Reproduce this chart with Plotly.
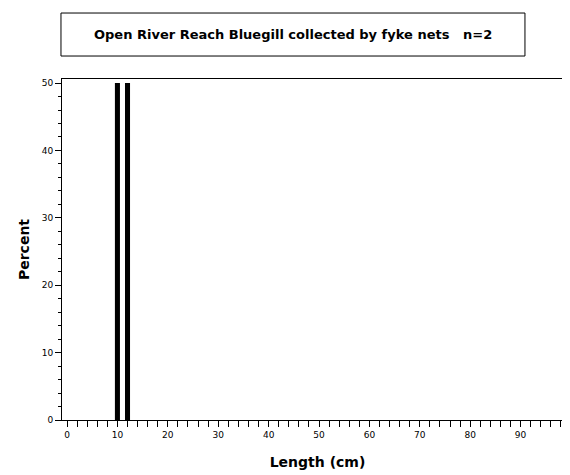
import plotly.graph_objects as go

lengths = [10, 12]
percents = [50, 50]
title_text = "Open River Reach Bluegill collected by fyke nets   n=2"
x_ticks = list(range(0, 100, 2))
x_labels = [str(v) if v % 10 == 0 else "" for v in x_ticks]

fig = go.Figure(go.Bar(x=lengths, y=percents, width=1.0, marker=dict(color="black", line=dict(width=0))))
font = "DejaVu Sans, Arial, sans-serif"
fig.update_layout(
    width=570, height=475, margin=dict(l=54, r=5, t=71, b=63),
    plot_bgcolor="white", paper_bgcolor="white", showlegend=False,
    font=dict(family=font, size=9, color="black"),
    xaxis=dict(range=[-1, 100.4], tickmode="array", tickvals=x_ticks, ticktext=x_labels,
               ticks="outside", ticklen=6, tickcolor="black", showline=True, linecolor="black",
               mirror=True, showgrid=False, zeroline=False, automargin=False,
               title=dict(text="<b>Length (cm)</b>", font=dict(size=14), standoff=18)),
    yaxis=dict(range=[0, 50.6], tickvals=[0, 10, 20, 30, 40, 50], ticks="outside", ticklen=6,
               tickcolor="black", showline=True, linecolor="black", mirror=True, showgrid=False,
               zeroline=False, automargin=False,
               minor=dict(dtick=2, ticks="outside", ticklen=3, tickcolor="black"),
               title=dict(text="<b>Percent</b>", font=dict(size=14), standoff=8)),
    shapes=[dict(type="rect", xref="paper", yref="paper", x0=-0.002, x1=0.906, y0=1.0674, y1=1.1935,
                 line=dict(color="black", width=1))],
    annotations=[dict(text="<b>" + title_text + "</b>", xref="paper", yref="paper", x=0.452, y=1.13,
                      showarrow=False, font=dict(size=13, family=font),
                      xanchor="center", yanchor="middle")],
)
fig.write_html("out.html")
